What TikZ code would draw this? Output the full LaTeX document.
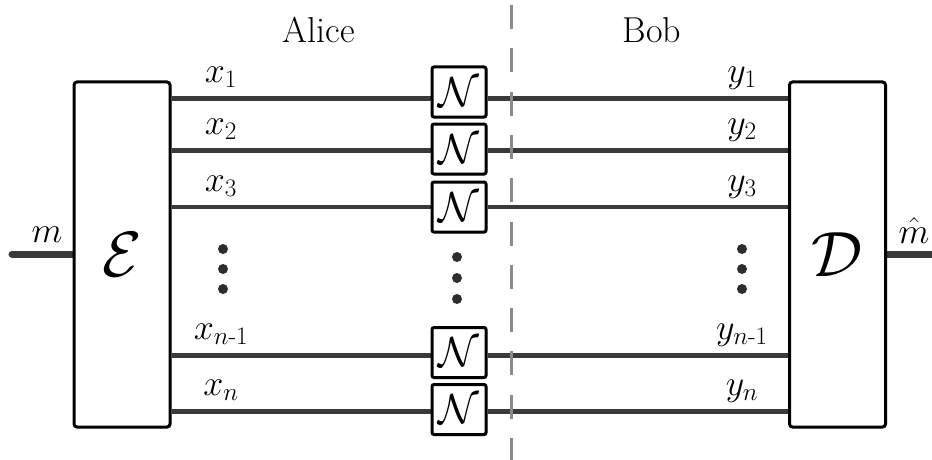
\RequirePackage{fix-cm}
\documentclass[tikz,border=0pt]{standalone}
\usepackage{amsmath}
\usetikzlibrary{shadows,backgrounds}
\definecolor{wirecol}{HTML}{3A3A3A}
\definecolor{dashcol}{HTML}{8A8A8A}
\definecolor{dotcol}{HTML}{2E2E2E}
\begin{document}
\begin{tikzpicture}[x=1pt,y=-1pt,
  txt/.style={font=\fontsize{36}{40}\selectfont, inner sep=0pt, anchor=base},
  wire/.style={line width=4.5pt, draw=wirecol},
  iowire/.style={line width=7pt, draw=wirecol},
  bigbox/.style={draw=black, line width=3pt, fill=white, rounded corners=3pt,
    minimum width=96pt, minimum height=345pt, inner sep=0pt,
    font=\fontsize{64}{70}\selectfont,
    drop shadow={opacity=0.25, shadow xshift=1.5pt, shadow yshift=-1.5pt}},
  chanbox/.style={draw=black, line width=3pt, fill=white, rounded corners=2pt,
    minimum width=54pt, minimum height=50pt, inner sep=0pt,
    font=\fontsize{42}{46}\selectfont,
    drop shadow={opacity=0.25, shadow xshift=1.5pt, shadow yshift=-1.5pt}},
  dotnode/.style={circle, fill=dotcol, minimum size=10pt, inner sep=0pt},
  divider/.style={draw=dashcol, line width=3pt, dash pattern=on 24pt off 19.3pt}
]
\useasboundingbox (0,0) rectangle (932,460);

% boxes
\node[bigbox] (E) at (122,254.5) {$\mathcal{E}$};
\node[bigbox] (D) at (837.5,254.5) {$\mathcal{D}$};
\node[chanbox] (N1) at (459,92) {$\mathcal{N}$};
\node[chanbox] (N2) at (459,149) {$\mathcal{N}$};
\node[chanbox] (N3) at (459,207) {$\mathcal{N}$};
\node[chanbox] (N4) at (459,352.5) {$\mathcal{N}$};
\node[chanbox] (N5) at (459,409.5) {$\mathcal{N}$};

% wire levels
\coordinate (w1) at (0,98.5);
\coordinate (w2) at (0,150.5);
\coordinate (w3) at (0,207);
\coordinate (w4) at (0,355.5);
\coordinate (w5) at (0,411.5);
\coordinate (min) at (12,254);
\coordinate (mout) at (932,254);

\begin{scope}[on background layer]
  \foreach \i in {1,...,5} {
    \draw[wire] (E.east |- w\i) -- (N\i.west |- w\i);
    \draw[wire] (N\i.east |- w\i) -- (D.west |- w\i);
  }
  \draw[iowire, line cap=round] (min) -- (E.west |- min);
  \draw[iowire] (D.east |- mout) -- (mout);
\end{scope}

% divider
\coordinate (dtop) at (511,5);
\coordinate (dbot) at (511,460);
\draw[divider] (dtop) -- (dbot);

% labels
\node[txt] (alice) at (319,43) {Alice};
\node[txt] (bob) at (652,43) {Bob};
\node[txt] (lm) at (47,242) {$m$};
\node[txt] (lmh) at (914,243) {$\hat{m}$};

\node[txt] (x1) at (221,82.5) {$x_1$};
\node[txt] (x2) at (221,134.5) {$x_2$};
\node[txt] (x3) at (221,191) {$x_3$};
\node[txt] (x4) at (221,339.5) {$x_{n\text{-}1}$};
\node[txt] (x5) at (221,395.5) {$x_{n}$};

\node[txt] (y1) at (742,82.5) {$y_1$};
\node[txt] (y2) at (742,134.5) {$y_2$};
\node[txt] (y3) at (742,191) {$y_3$};
\node[txt] (y4) at (742,339.5) {$y_{n\text{-}1}$};
\node[txt] (y5) at (742,395.5) {$y_{n}$};

% dots
\node[dotnode] (dl1) at (223,249) {};
\node[dotnode] (dl2) at (223,269) {};
\node[dotnode] (dl3) at (223,289) {};
\node[dotnode] (dm1) at (457,257) {};
\node[dotnode] (dm2) at (457,278) {};
\node[dotnode] (dm3) at (457,299) {};
\node[dotnode] (dr1) at (742,249) {};
\node[dotnode] (dr2) at (742,269) {};
\node[dotnode] (dr3) at (742,289) {};
\end{tikzpicture}
\end{document}
